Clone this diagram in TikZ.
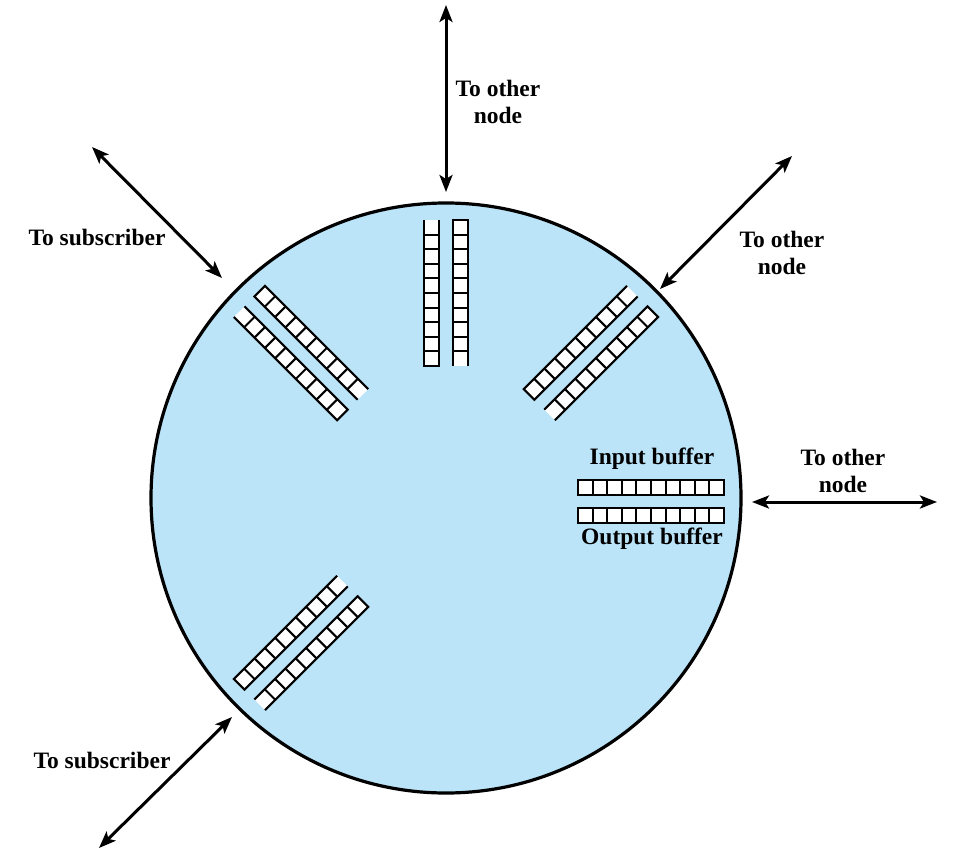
\documentclass[tikz,border=0pt]{standalone}
\usepackage{fontspec}
\setmainfont{Liberation Serif}
\usetikzlibrary{arrows.meta}
\definecolor{ringblue}{RGB}{187,228,248}
\tikzset{
  lbl/.style={font=\fontsize{23.5}{27.5}\selectfont\bfseries, align=center, inner sep=0pt},
  link/.style={line width=3pt, {Stealth[length=17pt,width=13pt,inset=4pt]}-{Stealth[length=17pt,width=13pt,inset=4pt]}},
  cellline/.style={line width=2.1pt, black},
}
\newcommand{\bstrip}[3]{%
  \fill[white] (132,#1) rectangle (278,#2);
  \foreach \k in {1,...,9} \draw[cellline] ({132+14.6*\k},#1) -- ({132+14.6*\k},#2);
  \ifcase#3 \draw[cellline] (132,#1) rectangle (278,#2);
  \or \draw[cellline] (278,#1) -- (132,#1) -- (132,#2) -- (278,#2);
  \or \draw[cellline] (132,#1) -- (278,#1) -- (278,#2) -- (132,#2);
  \fi}
\begin{document}
\begin{tikzpicture}[x=1pt,y=1pt]
\useasboundingbox (0,0) rectangle (965,-858);
% ring
\node[circle, draw, line width=3.2pt, fill=ringblue, minimum size=590pt, inner sep=0pt] (ring) at (446,-498) {};
% buffers
\begin{scope}[shift={(446,-498)}, rotate=90]
  \bstrip{7}{22}{1}\bstrip{-22}{-7}{2}
\end{scope}
\begin{scope}[shift={(446,-498)}, rotate=45]
  \bstrip{7}{22}{1}\bstrip{-22}{-7}{2}
\end{scope}
\begin{scope}[shift={(446,-498)}, rotate=135]
  \bstrip{7}{22}{1}\bstrip{-22}{-7}{2}
\end{scope}
\begin{scope}[shift={(446,-498)}, rotate=225]
  \bstrip{7}{22}{1}\bstrip{-22}{-7}{2}
\end{scope}
\begin{scope}[shift={(446,-501.5)}]
  \bstrip{6.5}{21.5}{0}\bstrip{-21.5}{-6.5}{0}
\end{scope}
\node[lbl] (inbuf) at (652,-459) {Input buffer};
\node[lbl] (outbuf) at (652,-539) {Output buffer};
% arrow end points
\coordinate (topA) at (446,-5);
\coordinate (topB) at (446,-192);
\coordinate (tlA) at (92,-147);
\coordinate (tlB) at (222,-278);
\coordinate (trA) at (792,-156);
\coordinate (trB) at (660,-289);
\coordinate (rA) at (752,-502);
\coordinate (rB) at (937,-502);
\coordinate (blA) at (232,-717);
\coordinate (blB) at (99,-848);
\draw[link] (topA) -- (topB);
\draw[link] (tlA) -- (tlB);
\draw[link] (trA) -- (trB);
\draw[link] (rA) -- (rB);
\draw[link] (blA) -- (blB);
% labels
\node[lbl] (ltop) at (498,-102) {To other\\node};
\node[lbl] (ltl) at (97,-237) {To subscriber};
\node[lbl] (ltr) at (782,-253) {To other\\node};
\node[lbl] (lr) at (843,-471) {To other\\node};
\node[lbl] (lbl) at (102,-760) {To subscriber};
\end{tikzpicture}
\end{document}
